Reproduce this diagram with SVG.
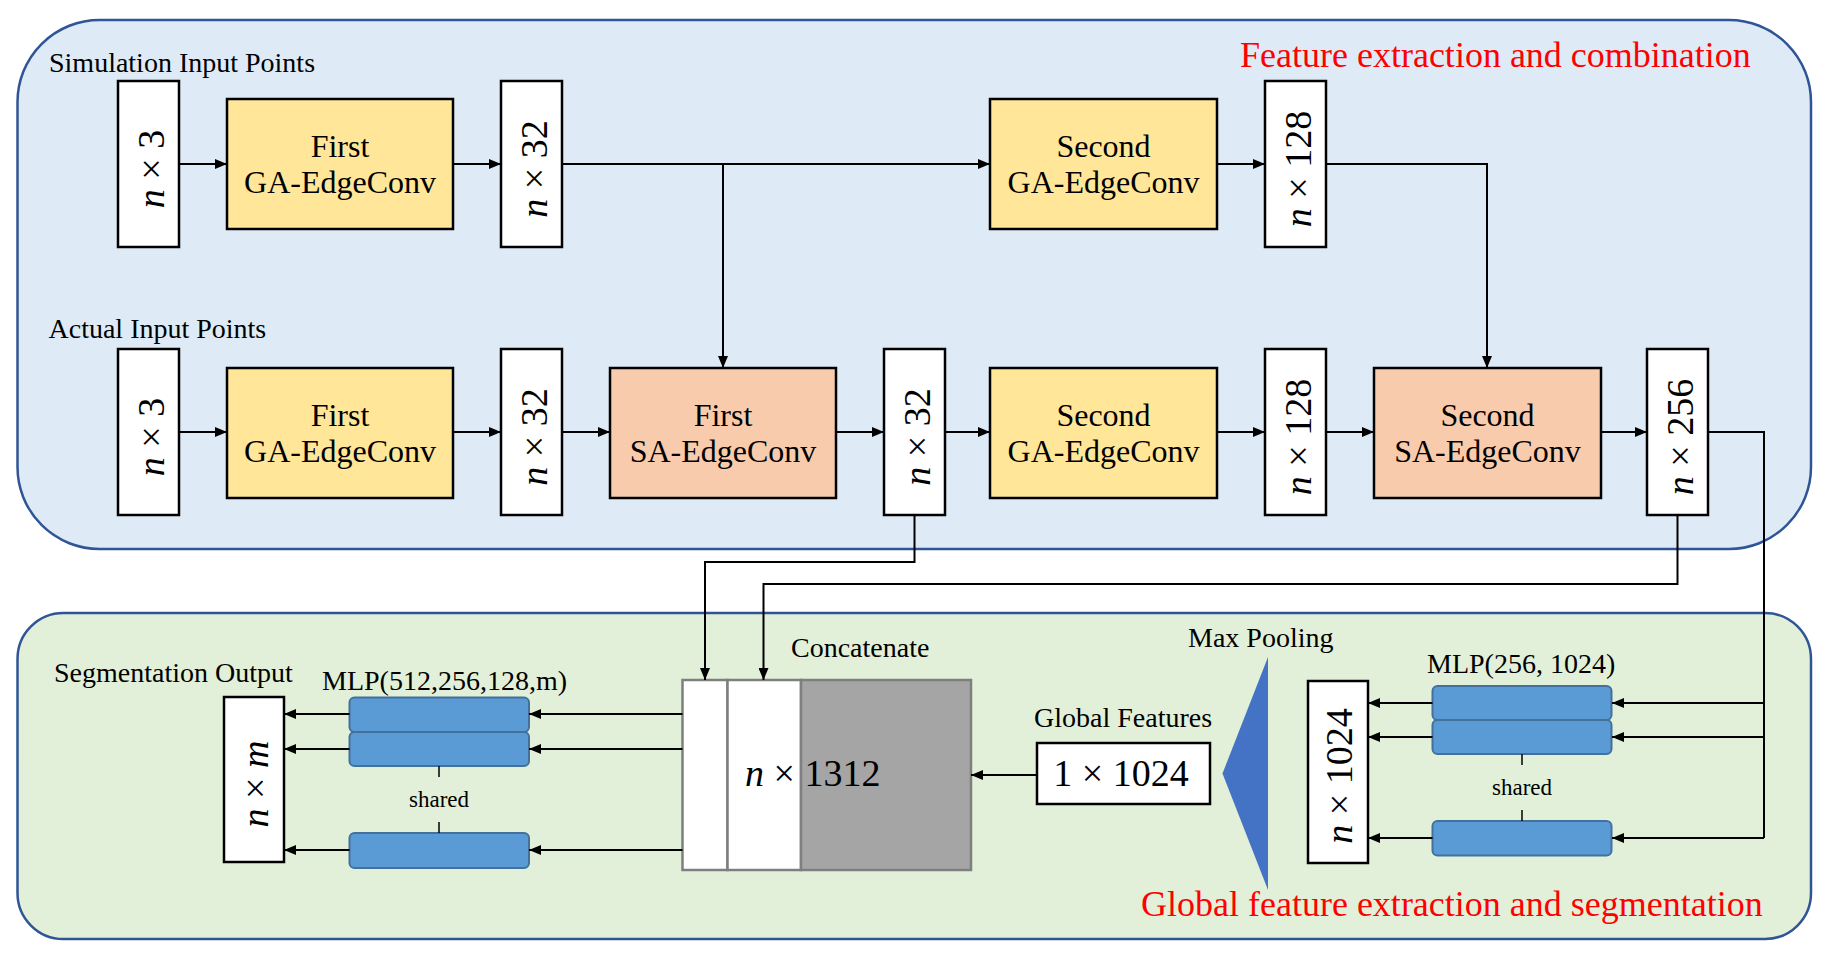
<svg xmlns="http://www.w3.org/2000/svg" width="1827" height="957" viewBox="0 0 1827 957">
<style>
.lbl{font-family:"Liberation Serif","Times New Roman",serif;font-size:28px;fill:#000}
.red{font-family:"Liberation Serif","Times New Roman",serif;font-size:36px;fill:#FF0000}
.bt{font-family:"Liberation Serif","Times New Roman",serif;font-size:32px;fill:#000;text-anchor:middle}
.math{font-family:"Liberation Serif","Times New Roman",serif;font-size:38px;fill:#000;text-anchor:middle}
.sh{font-family:"Liberation Serif","Times New Roman",serif;font-size:23px;fill:#000;text-anchor:middle}
.feat{fill:#FFFFFF;stroke:#000;stroke-width:2.5}
.ga{fill:#FFE699;stroke:#000;stroke-width:2.5}
.sa{fill:#F8CBAD;stroke:#000;stroke-width:2.5}
.mlp{fill:#5B9BD5;stroke:#41719C;stroke-width:2}
.conn{fill:none;stroke:#000;stroke-width:2}
.thin{fill:none;stroke:#000;stroke-width:1.5}
</style>
<defs>
<marker id="arr" markerUnits="userSpaceOnUse" markerWidth="12" markerHeight="10" refX="12" refY="5" orient="auto">
<path d="M0,0 L12,5 L0,10 z" fill="#000"/>
</marker>
</defs>

<g id="panel-top">
<rect x="17.5" y="20" width="1793.5" height="529" rx="82" fill="#DEEBF7" stroke="#2F5597" stroke-width="2.5"/>
<text class="lbl" x="49" y="72">Simulation Input Points</text>
<text class="lbl" x="48.5" y="338">Actual Input Points</text>
<text class="red" x="1240" y="67">Feature extraction and combination</text>
</g>

<g id="panel-bottom">
<rect x="17.5" y="613" width="1793.5" height="326" rx="46" fill="#E2F0D9" stroke="#2F5597" stroke-width="2.5"/>
<text class="red" x="1141" y="916">Global feature extraction and segmentation</text>
</g>

<!-- Simulation row -->
<g id="sim-in">
<rect class="feat" x="118" y="81" width="61" height="166"/>
<text class="math" transform="translate(164,169) rotate(-90)"><tspan font-style="italic">n</tspan> × 3</text>
</g>
<g id="sim-ga1">
<rect class="ga" x="227" y="99" width="226" height="130"/>
<text class="bt" x="340" y="157">First</text>
<text class="bt" x="340" y="193">GA-EdgeConv</text>
</g>
<g id="sim-f32">
<rect class="feat" x="501" y="81" width="61" height="166"/>
<text class="math" transform="translate(547,169) rotate(-90)"><tspan font-style="italic">n</tspan> × 32</text>
</g>
<g id="sim-ga2">
<rect class="ga" x="990" y="99" width="227" height="130"/>
<text class="bt" x="1103.5" y="157">Second</text>
<text class="bt" x="1103.5" y="193">GA-EdgeConv</text>
</g>
<g id="sim-f128">
<rect class="feat" x="1265" y="81" width="61" height="166"/>
<text class="math" transform="translate(1310.5,169) rotate(-90)"><tspan font-style="italic">n</tspan> × 128</text>
</g>

<!-- Actual row -->
<g id="act-in">
<rect class="feat" x="118" y="349" width="61" height="166"/>
<text class="math" transform="translate(164,437) rotate(-90)"><tspan font-style="italic">n</tspan> × 3</text>
</g>
<g id="act-ga1">
<rect class="ga" x="227" y="368" width="226" height="130"/>
<text class="bt" x="340" y="425.5">First</text>
<text class="bt" x="340" y="462">GA-EdgeConv</text>
</g>
<g id="act-f32">
<rect class="feat" x="501" y="349" width="61" height="166"/>
<text class="math" transform="translate(547,437) rotate(-90)"><tspan font-style="italic">n</tspan> × 32</text>
</g>
<g id="sa1">
<rect class="sa" x="610" y="368" width="226" height="130"/>
<text class="bt" x="723" y="425.5">First</text>
<text class="bt" x="723" y="462">SA-EdgeConv</text>
</g>
<g id="act-f32b">
<rect class="feat" x="884" y="349" width="61" height="166"/>
<text class="math" transform="translate(930,437) rotate(-90)"><tspan font-style="italic">n</tspan> × 32</text>
</g>
<g id="act-ga2">
<rect class="ga" x="990" y="368" width="227" height="130"/>
<text class="bt" x="1103.5" y="425.5">Second</text>
<text class="bt" x="1103.5" y="462">GA-EdgeConv</text>
</g>
<g id="act-f128">
<rect class="feat" x="1265" y="349" width="61" height="166"/>
<text class="math" transform="translate(1310.5,437) rotate(-90)"><tspan font-style="italic">n</tspan> × 128</text>
</g>
<g id="sa2">
<rect class="sa" x="1374" y="368" width="227" height="130"/>
<text class="bt" x="1487.5" y="425.5">Second</text>
<text class="bt" x="1487.5" y="462">SA-EdgeConv</text>
</g>
<g id="act-f256">
<rect class="feat" x="1647" y="349" width="61" height="166"/>
<text class="math" transform="translate(1693,437) rotate(-90)"><tspan font-style="italic">n</tspan> × 256</text>
</g>

<!-- Bottom panel nodes -->
<g id="seg-out">
<text class="lbl" x="54" y="682">Segmentation Output</text>
<rect class="feat" x="224" y="697" width="60" height="165"/>
<text class="math" transform="translate(268,784) rotate(-90)"><tspan font-style="italic">n</tspan> × <tspan font-style="italic">m</tspan></text>
</g>
<g id="mlp-seg">
<text class="lbl" x="322" y="690">MLP(512,256,128,m)</text>
<rect class="mlp" x="349.5" y="697.5" width="179.5" height="34.5" rx="5"/>
<rect class="mlp" x="349.5" y="732" width="179.5" height="34" rx="5"/>
<rect class="mlp" x="349.5" y="833" width="179.5" height="35" rx="5"/>
<line class="thin" x1="439" y1="766" x2="439" y2="777"/>
<line class="thin" x1="439" y1="822" x2="439" y2="833"/>
<text class="sh" x="439" y="806.5">shared</text>
</g>
<g id="concat">
<text class="lbl" x="791" y="657">Concatenate</text>
<rect x="682.5" y="680" width="45" height="190" fill="#FFFFFF" stroke="#7F7F7F" stroke-width="2.5"/>
<rect x="727.5" y="680" width="73.5" height="190" fill="#FFFFFF" stroke="#7F7F7F" stroke-width="2.5"/>
<rect x="801" y="680" width="170" height="190" fill="#A5A5A5" stroke="#7F7F7F" stroke-width="2.5"/>
<text class="math" x="745" y="786" text-anchor="start" style="text-anchor:start"><tspan font-style="italic">n</tspan> × 1312</text>
</g>
<g id="global-feat">
<text class="lbl" x="1034" y="726.5">Global Features</text>
<rect class="feat" x="1037" y="743" width="173" height="61"/>
<text class="math" x="1121" y="786">1 × 1024</text>
</g>
<g id="maxpool">
<text class="lbl" x="1188" y="647">Max Pooling</text>
<polygon points="1268,657 1222.5,773.5 1268,890" fill="#4472C4"/>
</g>
<g id="f1024">
<rect class="feat" x="1308" y="681" width="60" height="182"/>
<text class="math" transform="translate(1352,776) rotate(-90)"><tspan font-style="italic">n</tspan> × 1024</text>
</g>
<g id="mlp-glob">
<text class="lbl" x="1427" y="673">MLP(256, 1024)</text>
<rect class="mlp" x="1432.5" y="686" width="179" height="34" rx="5"/>
<rect class="mlp" x="1432.5" y="720" width="179" height="34" rx="5"/>
<rect class="mlp" x="1432.5" y="821" width="179" height="34.5" rx="5"/>
<line class="thin" x1="1522" y1="754" x2="1522" y2="765"/>
<line class="thin" x1="1522" y1="810" x2="1522" y2="821"/>
<text class="sh" x="1522" y="795">shared</text>
</g>

<g id="connectors">
<path class="conn" d="M179,164 H227" marker-end="url(#arr)"/>
<path class="conn" d="M453,164 H501" marker-end="url(#arr)"/>
<path class="conn" d="M562,164 H990" marker-end="url(#arr)"/>
<path class="conn" d="M723,164 V368" marker-end="url(#arr)"/>
<path class="conn" d="M1217,164 H1265" marker-end="url(#arr)"/>
<path class="conn" d="M1326,164 H1487 V368" marker-end="url(#arr)"/>

<path class="conn" d="M179,432 H227" marker-end="url(#arr)"/>
<path class="conn" d="M453,432 H501" marker-end="url(#arr)"/>
<path class="conn" d="M562,432 H610" marker-end="url(#arr)"/>
<path class="conn" d="M836,432 H884" marker-end="url(#arr)"/>
<path class="conn" d="M945,432 H990" marker-end="url(#arr)"/>
<path class="conn" d="M1217,432 H1265" marker-end="url(#arr)"/>
<path class="conn" d="M1326,432 H1374" marker-end="url(#arr)"/>
<path class="conn" d="M1601,432 H1647" marker-end="url(#arr)"/>

<path class="conn" d="M1708,432 H1764 V838"/>
<path class="conn" d="M1764,703 H1612" marker-end="url(#arr)"/>
<path class="conn" d="M1764,737 H1612" marker-end="url(#arr)"/>
<path class="conn" d="M1764,838 H1612" marker-end="url(#arr)"/>
<path class="conn" d="M1432.5,703 H1368" marker-end="url(#arr)"/>
<path class="conn" d="M1432.5,737 H1368" marker-end="url(#arr)"/>
<path class="conn" d="M1432.5,838 H1368" marker-end="url(#arr)"/>

<path class="conn" d="M914.5,515 V562 H705 V680" marker-end="url(#arr)"/>
<path class="conn" d="M1677.5,515 V584 H763.5 V680" marker-end="url(#arr)"/>
<path class="conn" d="M1037,775 H971" marker-end="url(#arr)"/>

<path class="conn" d="M682.5,714 H529" marker-end="url(#arr)"/>
<path class="conn" d="M682.5,749 H529" marker-end="url(#arr)"/>
<path class="conn" d="M682.5,850 H529" marker-end="url(#arr)"/>
<path class="conn" d="M349.5,714 H284" marker-end="url(#arr)"/>
<path class="conn" d="M349.5,749 H284" marker-end="url(#arr)"/>
<path class="conn" d="M349.5,850 H284" marker-end="url(#arr)"/>
</g>
</svg>
